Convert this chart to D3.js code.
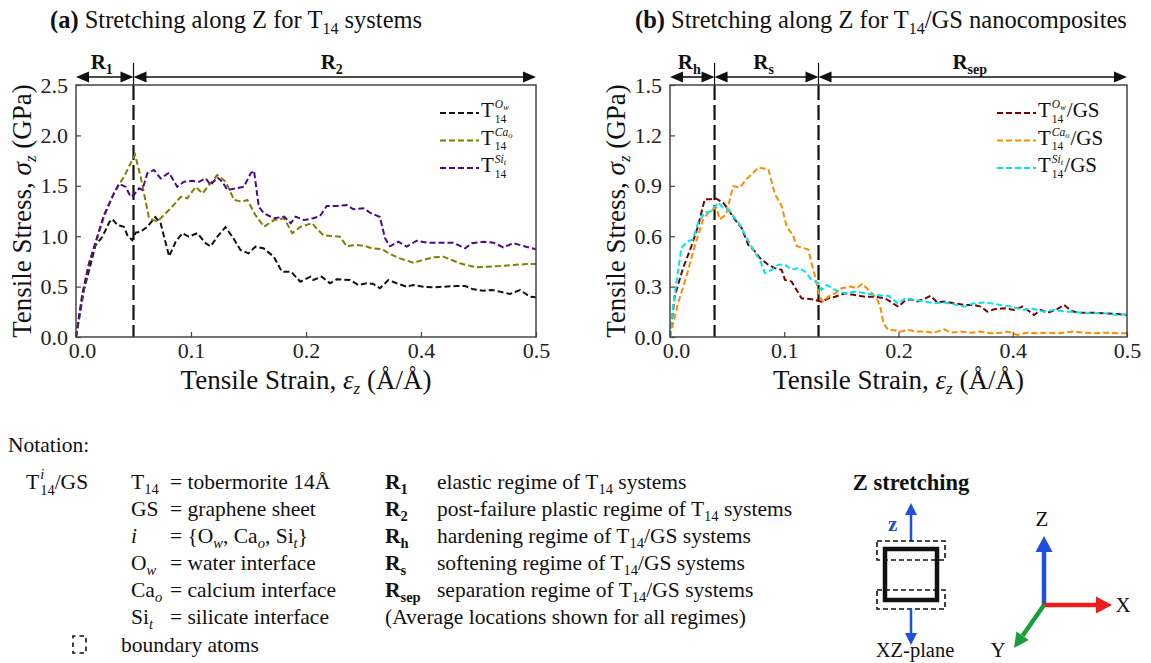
<!DOCTYPE html>
<html><head><meta charset="utf-8">
<script src="https://cdn.jsdelivr.net/npm/d3@7"></script>
<style>
body{margin:0;background:#fff}
svg{display:block}
text{font-family:"Liberation Serif","Times New Roman",serif;white-space:pre}
</style>
</head><body><script>
// ---------------- DATA ----------------
const strainDomain = [0, 0.4];
const xTickValues = [0, 0.1, 0.2, 0.3, 0.4];
const xTickLabels = ["0.0", "0.1", "0.2", "0.4", "0.5"];
const yTicksA = [0, 0.5, 1.0, 1.5, 2.0, 2.5];
const yTicksB = [0, 0.3, 0.6, 0.9, 1.2, 1.5];

const T14_Ow = [[0,0],[0.007,0.47],[0.017,0.91],[0.023,0.995],[0.029,1.14],[0.0316,1.17],[0.036,1.11],[0.0417,1.094],[0.0446,1.01],[0.049,0.96],[0.0519,1.035],[0.0562,1.045],[0.062,1.094],[0.069,1.19],[0.0736,1.128],[0.081,0.80],[0.0867,0.945],[0.0925,1.03],[0.098,0.995],[0.1055,1.03],[0.1128,0.93],[0.117,0.90],[0.1229,0.995],[0.130,1.09],[0.136,0.995],[0.143,0.863],[0.150,0.83],[0.156,0.896],[0.163,0.88],[0.172,0.797],[0.179,0.648],[0.187,0.648],[0.195,0.549],[0.204,0.598],[0.2063,0.565],[0.2136,0.598],[0.2209,0.533],[0.2267,0.572],[0.2383,0.565],[0.2455,0.516],[0.2528,0.533],[0.2585,0.526],[0.2643,0.483],[0.2716,0.565],[0.2789,0.533],[0.2875,0.499],[0.2933,0.516],[0.302,0.499],[0.3107,0.493],[0.3194,0.499],[0.331,0.506],[0.3383,0.506],[0.3455,0.473],[0.3542,0.46],[0.3615,0.466],[0.3687,0.45],[0.3774,0.427],[0.3861,0.466],[0.3948,0.40],[0.4,0.394]];
const T14_Cao = [[0,0],[0.0055,0.40],[0.0113,0.73],[0.0171,0.93],[0.0243,1.19],[0.033,1.43],[0.0417,1.59],[0.0513,1.81],[0.0562,1.59],[0.0635,1.18],[0.0707,1.145],[0.078,1.227],[0.085,1.31],[0.091,1.39],[0.0968,1.376],[0.104,1.49],[0.11,1.425],[0.1157,1.508],[0.1229,1.607],[0.1302,1.54],[0.1374,1.36],[0.1446,1.342],[0.149,1.36],[0.156,1.21],[0.1635,1.094],[0.1722,1.16],[0.181,1.178],[0.188,1.03],[0.1954,1.094],[0.2055,1.13],[0.2078,1.094],[0.215,1.01],[0.2223,1.002],[0.2296,0.995],[0.2354,0.90],[0.2441,0.913],[0.2513,0.903],[0.257,0.88],[0.266,0.873],[0.273,0.823],[0.2817,0.78],[0.2933,0.737],[0.302,0.764],[0.3107,0.79],[0.3194,0.797],[0.3267,0.764],[0.3339,0.731],[0.3397,0.714],[0.3484,0.691],[0.357,0.698],[0.3687,0.704],[0.3803,0.714],[0.3919,0.724],[0.4,0.724]];
const T14_Sit = [[0,0],[0.0055,0.43],[0.0113,0.73],[0.0171,0.945],[0.0243,1.21],[0.0316,1.39],[0.0374,1.52],[0.0432,1.49],[0.0475,1.39],[0.0504,1.41],[0.0548,1.475],[0.0577,1.46],[0.062,1.624],[0.0678,1.657],[0.0736,1.574],[0.0809,1.63],[0.088,1.49],[0.0939,1.54],[0.1012,1.55],[0.107,1.54],[0.1128,1.574],[0.117,1.508],[0.1229,1.584],[0.1272,1.54],[0.1316,1.458],[0.1389,1.475],[0.146,1.49],[0.1519,1.624],[0.1548,1.65],[0.159,1.29],[0.1635,1.227],[0.1722,1.178],[0.181,1.194],[0.1867,1.128],[0.191,1.194],[0.1983,1.16],[0.2063,1.178],[0.2122,1.20],[0.218,1.30],[0.2267,1.30],[0.2354,1.31],[0.2412,1.267],[0.25,1.277],[0.2557,1.233],[0.2643,1.19],[0.2687,0.98],[0.273,0.90],[0.2803,0.945],[0.2875,0.896],[0.2962,0.955],[0.305,0.936],[0.3165,0.936],[0.3281,0.936],[0.3383,0.88],[0.3441,0.93],[0.3542,0.945],[0.3629,0.936],[0.3716,0.89],[0.3803,0.93],[0.389,0.903],[0.4,0.87]];

const GS_Ow = [[0,0],[0.004,0.24],[0.0114,0.41],[0.0187,0.54],[0.0246,0.66],[0.0304,0.82],[0.0348,0.82],[0.0406,0.823],[0.0465,0.80],[0.0509,0.76],[0.0567,0.70],[0.0626,0.65],[0.0684,0.55],[0.0743,0.51],[0.0787,0.47],[0.086,0.43],[0.0918,0.41],[0.0977,0.40],[0.1006,0.34],[0.1064,0.33],[0.1108,0.28],[0.1152,0.23],[0.124,0.225],[0.1327,0.21],[0.1386,0.23],[0.1445,0.24],[0.153,0.26],[0.162,0.25],[0.1708,0.24],[0.1795,0.24],[0.1883,0.23],[0.2,0.18],[0.2047,0.211],[0.2105,0.225],[0.2164,0.211],[0.2222,0.225],[0.2281,0.245],[0.234,0.205],[0.2398,0.211],[0.2485,0.201],[0.2573,0.191],[0.2661,0.191],[0.2719,0.181],[0.2778,0.151],[0.2836,0.165],[0.2924,0.171],[0.3012,0.161],[0.3085,0.181],[0.3129,0.161],[0.3187,0.131],[0.3246,0.161],[0.3304,0.145],[0.3377,0.161],[0.345,0.191],[0.3509,0.157],[0.3567,0.145],[0.3684,0.145],[0.3801,0.141],[0.3918,0.137],[0.4,0.131]];
const GS_Cao = [[0,0],[0.007,0.20],[0.0143,0.36],[0.0216,0.54],[0.029,0.70],[0.0348,0.75],[0.0406,0.77],[0.0436,0.70],[0.049,0.73],[0.0553,0.898],[0.0611,0.89],[0.067,0.94],[0.0713,0.968],[0.0772,1.008],[0.086,1.0],[0.0918,0.85],[0.0977,0.78],[0.102,0.66],[0.1079,0.60],[0.111,0.54],[0.1167,0.53],[0.121,0.52],[0.1269,0.36],[0.131,0.24],[0.134,0.21],[0.1386,0.24],[0.1445,0.26],[0.1503,0.29],[0.158,0.30],[0.1635,0.29],[0.168,0.317],[0.1737,0.28],[0.181,0.23],[0.184,0.18],[0.1868,0.082],[0.191,0.042],[0.2,0.038],[0.2018,0.032],[0.2076,0.042],[0.2164,0.032],[0.2222,0.032],[0.231,0.026],[0.2398,0.046],[0.2456,0.026],[0.2544,0.032],[0.2632,0.026],[0.2719,0.032],[0.2807,0.022],[0.2895,0.026],[0.2953,0.032],[0.3041,0.012],[0.3129,0.026],[0.3216,0.022],[0.3304,0.026],[0.3392,0.022],[0.345,0.026],[0.3523,0.032],[0.3626,0.026],[0.3713,0.022],[0.3831,0.026],[0.3918,0.022],[0.4,0.022]];
const GS_Sit = [[0,0],[0.0026,0.18],[0.0099,0.53],[0.0158,0.57],[0.02,0.58],[0.0246,0.68],[0.0304,0.74],[0.0363,0.75],[0.042,0.80],[0.0465,0.77],[0.0509,0.76],[0.0553,0.72],[0.0611,0.67],[0.068,0.58],[0.0743,0.50],[0.0787,0.46],[0.083,0.38],[0.0889,0.40],[0.0947,0.43],[0.1006,0.43],[0.1064,0.40],[0.1123,0.41],[0.118,0.39],[0.124,0.34],[0.13,0.32],[0.1327,0.28],[0.1371,0.31],[0.1445,0.28],[0.153,0.26],[0.162,0.27],[0.1708,0.26],[0.1795,0.25],[0.1912,0.245],[0.2,0.197],[0.206,0.231],[0.2135,0.221],[0.2222,0.211],[0.231,0.201],[0.2398,0.205],[0.2515,0.191],[0.2573,0.181],[0.266,0.201],[0.2748,0.205],[0.2807,0.201],[0.2895,0.191],[0.2982,0.181],[0.3041,0.171],[0.31,0.161],[0.3158,0.171],[0.3275,0.151],[0.3363,0.161],[0.345,0.151],[0.3538,0.151],[0.3626,0.141],[0.3713,0.141],[0.38,0.141],[0.3918,0.131],[0.4,0.135]];

const seriesNamesA = ["Ow", "Cao", "Sit"];
const seriesNamesB = ["Ow", "Cao", "Sit"];
const colorsA = ["#111111", "#7f7f00", "#4b0a8c"];
const colorsB = ["#7a0000", "#ff8c00", "#00e5ee"];
const regimeBoundsA = [0.05];
const regimeBoundsB = [0.039, 0.13];
const regimeSubsA = ["1", "2"];
const regimeSubsB = ["h", "s", "sep"];

// ---------------- HELPERS ----------------
const W = 1151, H = 663;
const svg = d3.select("body").append("svg").attr("width", W).attr("height", H);

function rich(parent, x, y, parts, o = {}) {
  const base = o.size || 20;
  const g = parent.append("g");
  const text = g.append("text").attr("fill", o.fill || "#111").attr("font-size", base)
    .attr("font-weight", o.bold ? "bold" : "normal");
  let cx = 0;
  function put(p, px) {
    const t = text.append("tspan").attr("x", px).attr("y", p.dy || 0)
      .attr("font-size", p.size || base)
      .attr("font-weight", (p.bold !== undefined ? p.bold : o.bold) ? "bold" : "normal")
      .attr("font-style", p.italic ? "italic" : "normal")
      .text(p.t);
    return t.node().getComputedTextLength();
  }
  function run(list, start) {
    let c = start;
    list.forEach(p => { if (typeof p === "string") p = { t: p }; c += (p.dx || 0); c += put(p, c); });
    return c;
  }
  parts.forEach(p => {
    if (typeof p === "string") p = { t: p };
    if (p.stack) cx = Math.max(...p.stack.map(l => run(l, cx)));
    else cx = run([p], cx);
  });
  const shift = o.anchor === "middle" ? -cx / 2 : o.anchor === "end" ? -cx : 0;
  g.attr("transform", `translate(${x + shift},${y})`);
  return cx;
}

function supLabel(sup, subsub) {
  return [{ t: "T" }, { stack: [
    [{ t: sup, italic: true, size: 11.5, dy: -9, dx: 1 }, { t: subsub, italic: true, size: 8.5, dy: -7 }],
    [{ t: "14", size: 11.5, dy: 5.5, dx: 1 }]
  ] }];
}
const legendParts = { Ow: supLabel("O", "w"), Cao: supLabel("Ca", "o"), Sit: supLabel("Si", "t") };

// ---------------- PANELS ----------------
const T = 85, B = 337;

function arrowSeg(g, a, b, yy) {
  g.append("line").attr("x1", a + 10).attr("x2", b - 10).attr("y1", yy).attr("y2", yy)
    .attr("stroke", "#111").attr("stroke-width", 1.6);
  g.append("path").attr("d", `M${a},${yy}L${a + 13},${yy - 5.5}L${a + 13},${yy + 5.5}Z`).attr("fill", "#111");
  g.append("path").attr("d", `M${b},${yy}L${b - 13},${yy - 5.5}L${b - 13},${yy + 5.5}Z`).attr("fill", "#111");
}

function panel(cfg) {
  const x = d3.scaleLinear().domain(strainDomain).range([cfg.L, cfg.R]);
  const y = d3.scaleLinear().domain([0, cfg.yTicks[cfg.yTicks.length - 1]]).range([B, T]);
  const g = svg.append("g");

  rich(g, cfg.titleX, 28, [{ t: cfg.tag, bold: true }, " Stretching along Z for T", { t: "14", size: 16, dy: 6 }, cfg.titleRest], { size: 24.5 });

  const xa = g.append("g").attr("transform", `translate(0,${B})`)
    .call(d3.axisBottom(x).tickValues(xTickValues).tickFormat((d, i) => xTickLabels[i]).tickSizeInner(-5).tickSizeOuter(0).tickPadding(5));
  const ya = g.append("g").attr("transform", `translate(${cfg.L},0)`)
    .call(d3.axisLeft(y).tickValues(cfg.yTicks).tickFormat(d3.format(".1f")).tickSizeInner(-5).tickSizeOuter(0).tickPadding(8));
  [xa, ya].forEach(a => {
    a.select(".domain").remove();
    a.selectAll(".tick line").attr("stroke", "#444").attr("stroke-width", 1.2);
    a.selectAll(".tick text").attr("font-size", 22).attr("fill", "#222");
  });
  // keep the two corner "0.0" labels apart
  xa.selectAll(".tick text").filter((d, i) => i === 0).attr("dx", 6);

  cfg.bounds.forEach(b => {
    g.append("line").attr("x1", x(b)).attr("x2", x(b)).attr("y1", T).attr("y2", B)
      .attr("stroke", "#111").attr("stroke-width", 2.2).attr("stroke-dasharray", "15,5");
    g.append("line").attr("x1", x(b)).attr("x2", x(b)).attr("y1", 63).attr("y2", T)
      .attr("stroke", "#111").attr("stroke-width", 1.2);
  });

  const edges = [strainDomain[0], ...cfg.bounds, strainDomain[1]];
  cfg.subs.forEach((s, i) => {
    const a = x(edges[i]), b = x(edges[i + 1]);
    arrowSeg(g, a, b, 77);
    rich(g, (a + b) / 2 - 3, 69, [{ t: "R" }, { t: s, size: 14, dy: 5 }], { size: 21, bold: true, anchor: "middle" });
  });

  const line = d3.line().x(d => x(d[0])).y(d => y(d[1]));
  cfg.series.forEach((s, i) => {
    g.append("path").datum(s).attr("d", line).attr("fill", "none")
      .attr("stroke", cfg.colors[i]).attr("stroke-width", 2).attr("stroke-dasharray", "6,3");
  });

  g.append("rect").attr("x", cfg.L).attr("y", T).attr("width", cfg.R - cfg.L).attr("height", B - T)
    .attr("fill", "none").attr("stroke", "#444").attr("stroke-width", 1.5);

  cfg.names.forEach((n, i) => {
    const ly = 113 + i * 27.5;
    g.append("line").attr("x1", cfg.R + cfg.legDx).attr("x2", cfg.R + cfg.legDx + 39)
      .attr("y1", ly).attr("y2", ly).attr("stroke", cfg.colors[i]).attr("stroke-width", 2).attr("stroke-dasharray", "6,3");
    rich(g, cfg.R + cfg.legDx + 41, ly + 4, [...legendParts[n], ...(cfg.legSuffix ? [{ t: cfg.legSuffix, dx: 1 }] : [])], { size: 21 });
  });

  const yl = g.append("g").attr("transform", `translate(${cfg.L - 45},${(T + B) / 2}) rotate(-90)`);
  rich(yl, 0, 0, ["Tensile Stress, ", { t: "σ", italic: true }, { t: "z", italic: true, size: 17, dy: 5 }, " (GPa)"], { size: 27, anchor: "middle" });
  rich(g, (cfg.L + cfg.R) / 2, 389, ["Tensile Strain, ", { t: "ε", italic: true }, { t: "z", italic: true, size: 17, dy: 5 }, " (Å/Å)"], { size: 27, anchor: "middle" });
}

panel({ L: 76, R: 536, yTicks: yTicksA, series: [T14_Ow, T14_Cao, T14_Sit], colors: colorsA, names: seriesNamesA,
  bounds: regimeBoundsA, subs: regimeSubsA, tag: "(a)", titleX: 50, titleRest: " systems", legDx: -96, legSuffix: null });
panel({ L: 670, R: 1127, yTicks: yTicksB, series: [GS_Ow, GS_Cao, GS_Sit], colors: colorsB, names: seriesNamesB,
  bounds: regimeBoundsB, subs: regimeSubsB, tag: "(b)", titleX: 635, titleRest: "/GS nanocomposites", legDx: -130, legSuffix: "/GS" });

// ---------------- NOTATION ----------------
const note = svg.append("g");
const NS = 21.5;
const rowY = [489, 516, 543, 570, 597, 624, 652];
rich(note, 8, 452, ["Notation:"], { size: NS });
rich(note, 26, rowY[0], [{ t: "T" }, { stack: [[{ t: "i", italic: true, size: 14.5, dy: -10, dx: 1 }], [{ t: "14", size: 14.5, dy: 6, dx: 1 }]] }, "/GS"], { size: NS });

const sub = (t, it) => ({ t, size: 14.5, dy: 5, italic: !!it });
const leftSyms = [
  [{ t: "T" }, sub("14")],
  ["GS"],
  [{ t: "i", italic: true }],
  ["O", sub("w", true)],
  ["Ca", sub("o", true)],
  ["Si", sub("t", true)]
];
const leftDefs = [
  ["= tobermorite 14Å"],
  ["= graphene sheet"],
  ["= {O", sub("w", true), ", Ca", sub("o", true), ", Si", sub("t", true), "}"],
  ["= water interface"],
  ["= calcium interface"],
  ["= silicate interface"]
];
leftSyms.forEach((p, i) => rich(note, 131, rowY[i], p, { size: NS }));
leftDefs.forEach((p, i) => rich(note, 170, rowY[i], p, { size: NS }));
note.append("rect").attr("x", 73).attr("y", 636).attr("width", 13).attr("height", 17)
  .attr("fill", "none").attr("stroke", "#111").attr("stroke-width", 1.6).attr("stroke-dasharray", "4.5,4").attr("stroke-dashoffset", 2);
rich(note, 121, rowY[6], ["boundary atoms"], { size: NS });

const regSubs = ["1", "2", "h", "s", "sep"];
const regDefs = [
  ["elastic regime of T", sub("14"), " systems"],
  ["post-failure plastic regime of T", sub("14"), " systems"],
  ["hardening regime of T", sub("14"), "/GS systems"],
  ["softening regime of T", sub("14"), "/GS systems"],
  ["separation regime of T", sub("14"), "/GS systems"]
];
regSubs.forEach((s, i) => rich(note, 385, rowY[i], [{ t: "R" }, { t: s, size: 14.5, dy: 5 }], { size: NS, bold: true }));
regDefs.forEach((p, i) => rich(note, 437, rowY[i], p, { size: NS }));
rich(note, 385, rowY[5], ["(Average locations shown for all regimes)"], { size: NS });

// ---------------- DIAGRAM ----------------
const dg = svg.append("g");
const blue = "#1f4fe0", red = "#ee1c1c", green = "#1a9e3c";
function arrow(g, x1, y1, x2, y2, col, w, hl, hw) {
  const ang = Math.atan2(y2 - y1, x2 - x1);
  const bx = x2 - hl * Math.cos(ang), by = y2 - hl * Math.sin(ang);
  g.append("line").attr("x1", x1).attr("y1", y1).attr("x2", bx).attr("y2", by).attr("stroke", col).attr("stroke-width", w);
  const px = -Math.sin(ang) * hw, py = Math.cos(ang) * hw;
  g.append("path").attr("d", `M${x2},${y2}L${bx + px},${by + py}L${bx - px},${by - py}Z`).attr("fill", col);
}
const cxq = 911;
rich(dg, cxq, 490, ["Z stretching"], { size: 22.5, bold: true, anchor: "middle" });
arrow(dg, cxq, 541, cxq, 503, blue, 2.5, 12, 6);
rich(dg, cxq - 23, 531, ["z"], { size: 21, bold: true, fill: blue });
dg.append("rect").attr("x", cxq - 26).attr("y", 549).attr("width", 52).attr("height", 51)
  .attr("fill", "none").attr("stroke", "#111").attr("stroke-width", 4.5);
[[541, 560], [590, 609]].forEach(([a, b]) => {
  dg.append("rect").attr("x", cxq - 34).attr("y", a).attr("width", 68).attr("height", b - a)
    .attr("fill", "none").attr("stroke", "#111").attr("stroke-width", 1.6).attr("stroke-dasharray", "5,3");
});
arrow(dg, cxq, 609, cxq, 645, blue, 2.5, 12, 6);
rich(dg, cxq + 4, 657, ["XZ-plane"], { size: 20.5, anchor: "middle" });

const ox = 1044, oy = 605;
arrow(dg, ox, oy, ox, 536, blue, 4.5, 16, 8.5);
arrow(dg, ox, oy, 1112, oy, red, 4.5, 16, 8.5);
arrow(dg, ox, oy, 1014, 648, green, 4.5, 15, 7.5);
rich(dg, ox - 2, 526, ["Z"], { size: 21, anchor: "middle" });
rich(dg, 1123, 612, ["X"], { size: 21, anchor: "middle" });
rich(dg, 998, 657, ["Y"], { size: 21, anchor: "middle" });
</script></body></html>
